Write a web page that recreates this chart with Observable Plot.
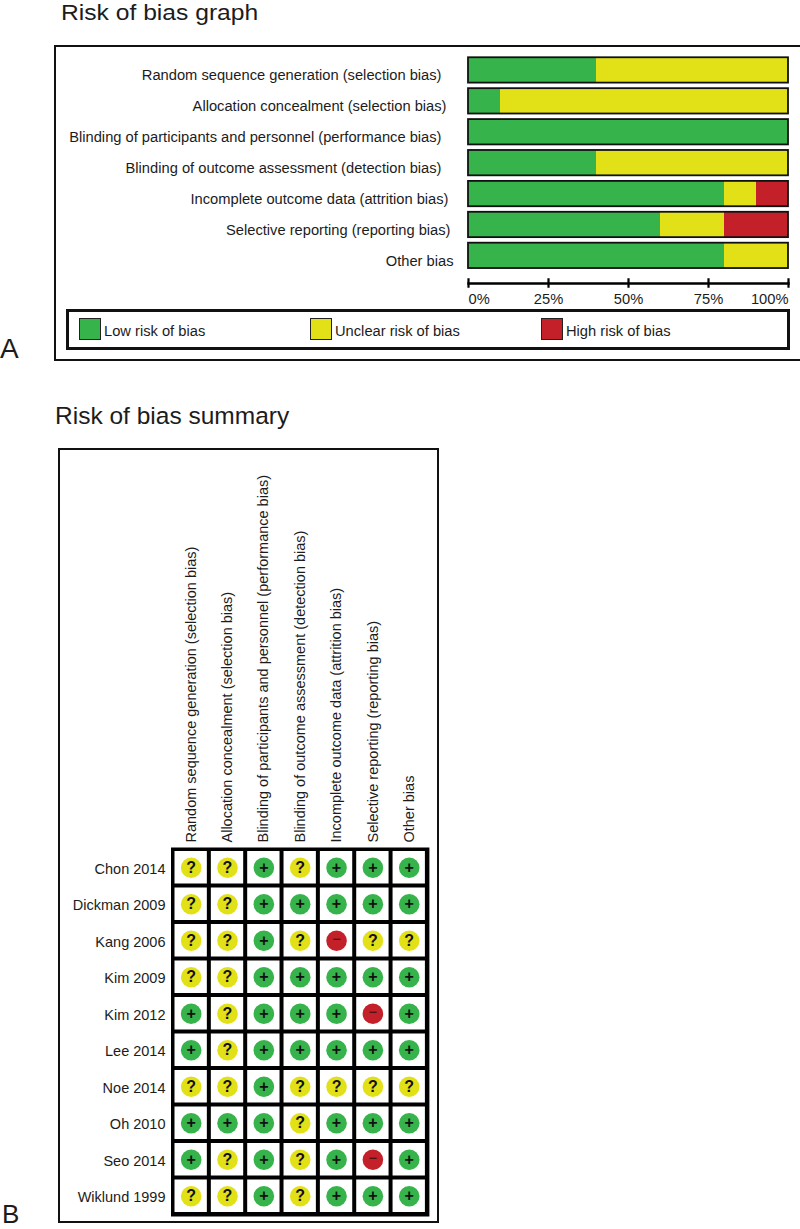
<!DOCTYPE html>
<html><head><meta charset="utf-8">
<script src="https://cdn.jsdelivr.net/npm/d3@7"></script>
<script src="https://cdn.jsdelivr.net/npm/@observablehq/plot@0.6"></script>
<style>
html,body{margin:0;padding:0;background:#fff}
#page{position:relative;width:800px;height:1229px;overflow:hidden;font-family:"Liberation Sans",Arial,sans-serif;color:#1c1c1c}
#page svg{position:absolute;left:0;background:transparent;font-family:"Liberation Sans",Arial,sans-serif}
.t{position:absolute;white-space:nowrap;line-height:.8}
.box{position:absolute;box-sizing:border-box;border:solid #111}
.sw{position:absolute;width:22px;height:22px;box-sizing:border-box;border:1.5px solid #222}
</style></head><body><div id="page"></div>
<script>
const domains = [
  "Random sequence generation (selection bias)",
  "Allocation concealment (selection bias)",
  "Blinding of participants and personnel (performance bias)",
  "Blinding of outcome assessment (detection bias)",
  "Incomplete outcome data (attrition bias)",
  "Selective reporting (reporting bias)",
  "Other bias"
];
const lowPct     = [40, 10, 100, 40, 80, 60, 80];
const unclearPct = [60, 90, 0, 60, 10, 20, 20];
const highPct    = [0, 0, 0, 0, 10, 20, 0];
const levels = ["Low risk of bias", "Unclear risk of bias", "High risk of bias"];
const levelColors = ["#36b34a", "#e2e118", "#c4202a"];
const pctTicks = [0, 25, 50, 75, 100];
const studies = ["Chon 2014","Dickman 2009","Kang 2006","Kim 2009","Kim 2012","Lee 2014","Noe 2014","Oh 2010","Seo 2014","Wiklund 1999"];
const judgements = [
  "??+?+++",
  "??+++++",
  "??+?-??",
  "??+++++",
  "+?+++-+",
  "+?+++++",
  "??+????",
  "+++?+++",
  "+?+?+-+",
  "??+?+++"
];

const page = document.getElementById("page");
function label(text, x, y, size, extra = "") {
  const d = document.createElement("div");
  d.className = "t"; d.textContent = text;
  d.style.cssText = `left:${x}px;top:${y}px;font-size:${size}px;${extra}`;
  page.appendChild(d);
}
function box(x, y, w, h, bw) {
  const d = document.createElement("div");
  d.className = "box";
  d.style.cssText = `left:${x}px;top:${y}px;width:${w}px;height:${h}px;border-width:${bw}px`;
  page.appendChild(d);
}

/* Panel A */
const barRows = domains.flatMap((d, i) => [
  {domain: d, level: levels[0], pct: lowPct[i]},
  {domain: d, level: levels[1], pct: unclearPct[i]},
  {domain: d, level: levels[2], pct: highPct[i]}
]);
const labelGap = [27, 22, 27, 27, 20, 18, 15];
const fmt = d => d + "%";
const textColor = "#1c1c1c";
const fs = 14.7;
const graph = Plot.plot({
  width: 800, height: 375,
  marginLeft: 468, marginRight: 12, marginTop: 0, marginBottom: 375 - 283,
  x: {domain: [0, 100], label: null},
  y: {type: "band", domain: domains, range: [51.7, 273.6], padding: 0.18, round: false, axis: null, label: null},
  color: {domain: levels, range: levelColors},
  style: {fontSize: "14px", color: textColor},
  marks: [
    Plot.barX(barRows, Plot.stackX({x: "pct", y: "domain", fill: "level", order: levels})),
    Plot.barX(domains, {x1: () => 0, x2: () => 100, y: d => d, fill: "none", stroke: "#111", strokeWidth: 1.8}),
    ...domains.map((d, i) => Plot.text([d], {
      x: () => 0, y: v => v, text: v => v, textAnchor: "end", dx: -labelGap[i], dy: 5, fontSize: fs, fill: textColor
    })),
    Plot.frame({anchor: "bottom", stroke: "#000", strokeWidth: 2.4}),
    Plot.axisX({ticks: pctTicks, tickSize: 9.5, dy: -4.75, text: null, stroke: "#000", strokeWidth: 2.2, label: null}),
    Plot.axisX({ticks: [0], tickSize: 0, tickPadding: 10, tickFormat: fmt, textAnchor: "start", fontSize: fs, fill: textColor, label: null}),
    Plot.axisX({ticks: [25, 50, 75], tickSize: 0, tickPadding: 10, tickFormat: fmt, fontSize: fs, fill: textColor, label: null}),
    Plot.axisX({ticks: [100], tickSize: 0, tickPadding: 10, tickFormat: fmt, textAnchor: "end", fontSize: fs, fill: textColor, label: null})
  ]
});
graph.style.top = "0px";
page.appendChild(graph);

label("Risk of bias graph", 61, 0, 22, "line-height:normal;transform:scaleX(1.12);transform-origin:left center");
box(54, 45, 760, 316, 2.5);
box(66, 309, 724, 41, 3);
[[78.5, 104], [310, 335], [541, 566]].forEach(([sx, tx], i) => {
  const s = document.createElement("div");
  s.className = "sw";
  s.style.cssText = `left:${sx}px;top:318px;background:${levelColors[i]}`;
  page.appendChild(s);
  label(levels[i], tx, 326, fs);
});
label("A", 0, 338, 28);

/* Panel B */
const cells = studies.flatMap((s, r) => domains.map((d, c) => ({study: s, domain: d, j: judgements[r][c]})));
const colorOf = {"+": levelColors[0], "?": levelColors[1], "-": levelColors[2]};
const topB = 380;
const summary = Plot.plot({
  width: 800, height: 1229 - topB,
  marginLeft: 172.5, marginRight: 800 - 426.9, marginTop: 849 - topB, marginBottom: 1229 - 1214,
  x: {type: "band", domain: domains, padding: 0, round: false, axis: null, label: null},
  y: {type: "band", domain: studies, padding: 0, round: false, axis: null, label: null},
  style: {fontSize: "14px", color: textColor},
  marks: [
    Plot.frame({fill: "#000", stroke: "#000", strokeWidth: 4}),
    Plot.cell(cells, {x: "domain", y: "study", fill: "#fff", inset: 2}),
    Plot.dot(cells, {x: "domain", y: "study", r: 10.3, fill: d => colorOf[d.j], stroke: "none"}),
    Plot.text(cells.filter(d => d.j !== "-"), {x: "domain", y: "study", text: "j", fontSize: 16, fontWeight: "bold", fill: "#111"}),
    Plot.text(cells.filter(d => d.j === "-"), {x: "domain", y: "study", text: () => "−", dy: -1.5, fontSize: 15, fill: "#3a1010"}),
    Plot.axisX({anchor: "top", tickSize: 0, tickPadding: 7, tickRotate: -90, fontSize: 14.5, fill: textColor, label: null, lineWidth: 60, textOverflow: null, tickFormat: d => d}),
    Plot.axisY({anchor: "left", tickSize: 0, tickPadding: 7.5, dy: 1.5, fontSize: 14.5, fill: textColor, label: null})
  ]
});
summary.style.top = topB + "px";
page.appendChild(summary);

label("Risk of bias summary", 55, 406, 24.5);
box(58, 448, 381, 775, 2.5);
label("B", 2, 1199, 26, "line-height:normal");
</script></body></html>
